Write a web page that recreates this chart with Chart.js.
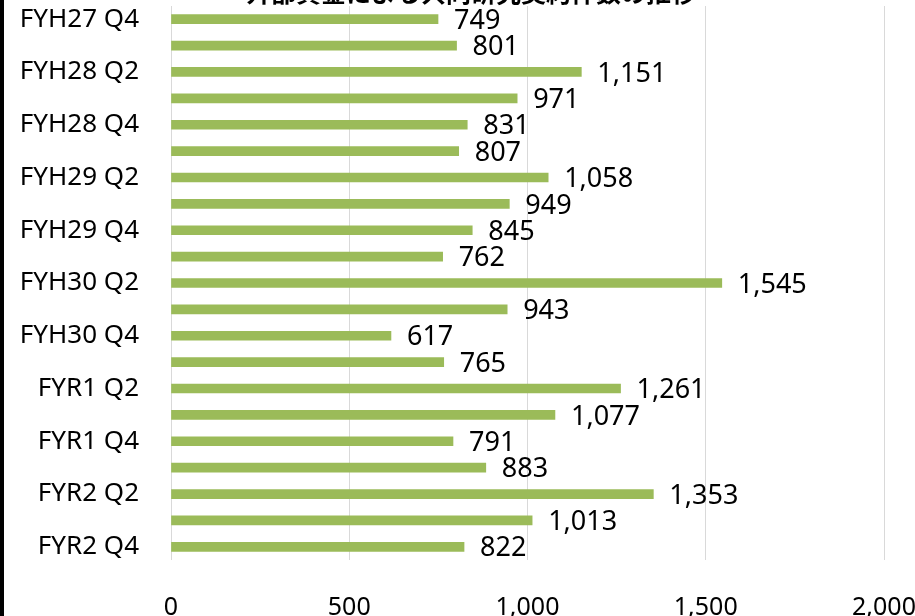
<!DOCTYPE html>
<html>
<head>
<meta charset="utf-8">
<script src="https://cdn.jsdelivr.net/npm/chart.js@4"></script>
<style>
  html, body { margin: 0; padding: 0; background: #fff; }
  #wrap { width: 915px; height: 616px; position: relative; }
</style>
</head>
<body>
<div id="wrap"><canvas id="chart" width="915" height="616"></canvas></div>
<script>
// --- DATA ---
const quarters = [
    'FYH27 Q4', 'FYH28 Q1', 'FYH28 Q2', 'FYH28 Q3', 'FYH28 Q4',
    'FYH29 Q1', 'FYH29 Q2', 'FYH29 Q3', 'FYH29 Q4',
    'FYH30 Q1', 'FYH30 Q2', 'FYH30 Q3', 'FYH30 Q4',
    'FYR1 Q1', 'FYR1 Q2', 'FYR1 Q3', 'FYR1 Q4',
    'FYR2 Q1', 'FYR2 Q2', 'FYR2 Q3', 'FYR2 Q4'
];
const counts = [749, 801, 1151, 971, 831, 807, 1058, 949, 845, 762, 1545, 943, 617, 765, 1261, 1077, 791, 883, 1353, 1013, 822];
const xTicks = [0, 500, 1000, 1500, 2000];
const titleText = '外部資金による共同研究契約件数の推移';

const FONT = "'Noto Sans', 'Open Sans', sans-serif";

// value labels next to each bar end
const barLabels = {
    id: 'barLabels',
    afterDatasetsDraw(chart) {
        const ctx = chart.ctx;
        const meta = chart.getDatasetMeta(0);
        ctx.save();
        ctx.font = '27px ' + FONT;
        ctx.fillStyle = '#000';
        ctx.textAlign = 'left';
        ctx.textBaseline = 'middle';
        meta.data.forEach((bar, i) => {
            ctx.fillText(counts[i].toLocaleString('en-US'), bar.x + 16, bar.y + 2);
        });
        ctx.restore();
    }
};

// cut-off title at the top and black frame line on the left
const frame = {
    id: 'frame',
    afterDraw(chart) {
        const ctx = chart.ctx;
        ctx.save();
        ctx.fillStyle = '#000';
        ctx.fillRect(0, 0, 4, chart.height);
        ctx.font = 'bold 25px "Noto Sans CJK JP", sans-serif';
        ctx.textAlign = 'center';
        ctx.textBaseline = 'alphabetic';
        ctx.fillText(titleText, 471, 2);
        ctx.restore();
    }
};

new Chart(document.getElementById('chart'), {
    type: 'bar',
    data: {
        labels: quarters,
        datasets: [{
            data: counts,
            backgroundColor: '#9BBB59',
            barThickness: 9
        }]
    },
    options: {
        indexAxis: 'y',
        responsive: false,
        animation: false,
        layout: { padding: { top: 6, right: 31, left: 0, bottom: 0 } },
        plugins: {
            legend: { display: false },
            tooltip: { enabled: false }
        },
        scales: {
            x: {
                min: 0,
                max: 2000,
                afterBuildTicks(scale) {
                    scale.ticks = xTicks.map(v => ({ value: v }));
                },
                afterFit(scale) {
                    scale.height = 56;
                    scale.paddingLeft = 0;
                    scale.paddingRight = 0;
                },
                grid: { color: '#d9d9d9', lineWidth: 1, drawTicks: false },
                border: { display: false },
                ticks: {
                    padding: 33,
                    color: '#000',
                    font: { family: FONT, size: 25 },
                    callback: v => v.toLocaleString('en-US')
                }
            },
            y: {
                afterFit(scale) {
                    scale.width = 171;
                    scale.paddingTop = 0;
                    scale.paddingBottom = 0;
                },
                grid: { display: false, drawTicks: false },
                border: { display: false },
                ticks: {
                    autoSkip: false,
                    padding: 32,
                    color: '#000',
                    font: { family: FONT, size: 26 },
                    callback: function (value, index) {
                        return index % 2 === 0 ? quarters[index] : '';
                    }
                }
            }
        }
    },
    plugins: [barLabels, frame]
});
</script>
</body>
</html>
